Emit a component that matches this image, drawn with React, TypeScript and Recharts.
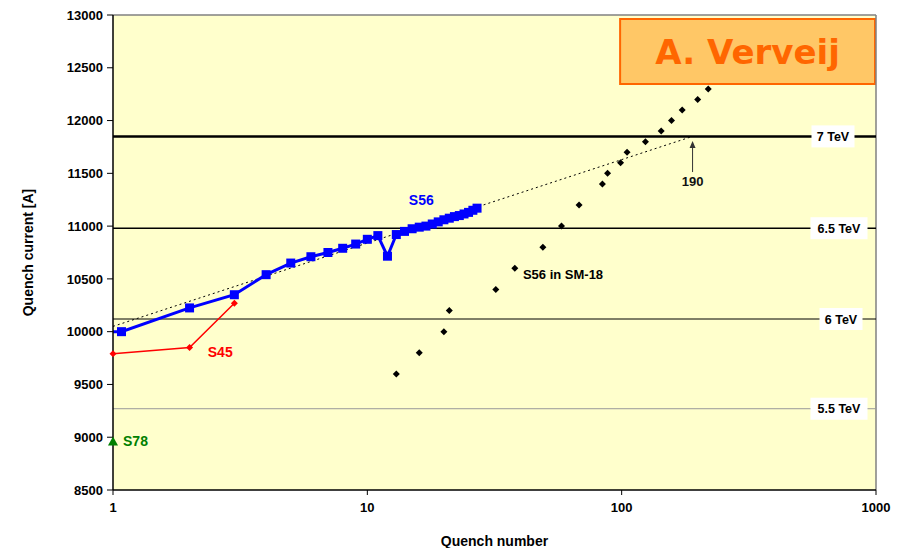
import {
  ComposedChart, Line, Scatter, XAxis, YAxis, ReferenceLine, ReferenceArea, ReferenceDot, Label,
} from 'recharts';

// S56 quench training in the tunnel
const s56Quench = [1, 1.08, 2, 3, 4, 5, 6, 7, 8, 9, 10, 11, 12, 13, 14, 15, 16, 17, 18, 19, 20, 21, 22, 23, 24, 25, 26, 27];
const s56Current = [10000, 10000, 10225, 10350, 10540, 10650, 10710, 10750, 10790, 10830, 10875, 10910, 10715, 10920, 10950, 10975, 10990, 11000, 11020, 11040, 11060, 11075, 11090, 11100, 11115, 11130, 11150, 11170];

// S45
const s45Quench = [1, 2, 3];
const s45Current = [9790, 9850, 10270];

// S78
const s78Quench = [1];
const s78Current = [8960];

// S56 magnets tested in SM-18
const sm18Quench = [13, 16, 20, 21, 32, 38, 49, 58, 68, 84, 88, 99, 105, 124, 143, 157, 173, 199, 219];
const sm18Current = [9600, 9800, 10000, 10200, 10400, 10600, 10800, 11000, 11200, 11400, 11500, 11600, 11700, 11800, 11900, 12000, 12100, 12200, 12300];

// log trend fitted through S56
const trendQuench = [1, 190];
const trendCurrent = [10050, 11850];

// beam energy levels
const tevLabels = ['7 TeV', '6.5 TeV', '6 TeV', '5.5 TeV'];
const tevCurrent = [11850, 10980, 10120, 9270];

const xTicks = [1, 10, 100, 1000];
const yTicks = [8500, 9000, 9500, 10000, 10500, 11000, 11500, 12000, 12500, 13000];

const zip = (xs: number[], ys: number[]) => xs.map((x, i) => ({ x, y: ys[i] }));

const s56Data = zip(s56Quench, s56Current);
const s45Data = zip(s45Quench, s45Current);
const s78Data = zip(s78Quench, s78Current);
const sm18Data = zip(sm18Quench, sm18Current);
const trendData = zip(trendQuench, trendCurrent);

const FONT = '"Liberation Sans", Arial, sans-serif';

const tevStyle = [
  { width: 2.5, color: '#000', dx: -43 },
  { width: 1.5, color: '#000', dx: -37 },
  { width: 1, color: '#000', dx: -35 },
  { width: 1, color: '#999', dx: -37 },
];

function SquareDot(props: any) {
  const { cx, cy, index } = props;
  if (index === 0 || cx == null) return <g key={`sq-${index}`} />;
  return <rect key={`sq-${index}`} x={cx - 4.5} y={cy - 4.5} width={9} height={9} fill="#0000FF" />;
}

function SmallDiamond(props: any) {
  const { cx, cy, index } = props;
  if (cx == null) return <g key={`rd-${index}`} />;
  return <path key={`rd-${index}`} d={`M${cx},${cy - 3.5}L${cx + 3.5},${cy}L${cx},${cy + 3.5}L${cx - 3.5},${cy}Z`} fill="#FF0000" />;
}

function BlackDiamond(props: any) {
  const { cx, cy } = props;
  return <path d={`M${cx},${cy - 3.5}L${cx + 3.5},${cy}L${cx},${cy + 3.5}L${cx - 3.5},${cy}Z`} fill="#000" />;
}

function Triangle(props: any) {
  const { cx, cy } = props;
  return <path d={`M${cx},${cy - 5}L${cx + 5},${cy + 4}L${cx - 5},${cy + 4}Z`} fill="#008000" />;
}

function TevLabel({ viewBox, text, dx }: any) {
  const cx = viewBox.x + viewBox.width + dx;
  const cy = viewBox.y;
  const w = text.length * 7 + 8;
  return (
    <g>
      <rect x={cx - w / 2} y={cy - 11} width={w} height={22} fill="#fff" />
      <text x={cx} y={cy + 4.5} textAnchor="middle" fontFamily={FONT} fontWeight="bold" fontSize={12.5} fill="#000">{text}</text>
    </g>
  );
}

function TextLabel({ viewBox, text, color, anchor = 'middle', size = 14 }: any) {
  return (
    <text x={viewBox.x} y={viewBox.y + size * 0.36} textAnchor={anchor} fontFamily={FONT} fontWeight="bold" fontSize={size} fill={color}>
      {text}
    </text>
  );
}

function ArrowLabel({ viewBox }: any) {
  const x = viewBox.x;
  const y = viewBox.y;
  return (
    <g>
      <line x1={x} y1={y - 9} x2={x} y2={y - 36} stroke="#333" strokeWidth={1} />
      <path d={`M${x},${y - 40}L${x + 3},${y - 33}L${x - 3},${y - 33}Z`} fill="#333" />
      <text x={x} y={y + 5} textAnchor="middle" fontFamily={FONT} fontWeight="bold" fontSize={13} fill="#111">190</text>
    </g>
  );
}

export default function App() {
  return (
    <div style={{ position: 'fixed', left: 0, top: 0, background: '#fff' }}>
      <ComposedChart width={898} height={548} margin={{ top: 15, right: 22, bottom: 0, left: 0 }}>
        <XAxis
          type="number"
          dataKey="x"
          scale="log"
          domain={[1, 1000]}
          ticks={xTicks}
          height={58}
          axisLine={{ stroke: '#000', strokeWidth: 1.5 }}
          tickLine={{ stroke: '#000' }}
          tickSize={5}
          tick={{ fill: '#000', fontSize: 13, fontWeight: 'bold', fontFamily: FONT }}
          tickMargin={8}
        >
          <Label value="Quench number" position="insideBottom" offset={0} dy={-2} style={{ fill: '#000', fontSize: 14, fontWeight: 'bold', fontFamily: FONT }} />
        </XAxis>
        <YAxis
          type="number"
          dataKey="y"
          domain={[8500, 13000]}
          ticks={yTicks}
          width={113}
          axisLine={{ stroke: '#000', strokeWidth: 1.5 }}
          tickLine={{ stroke: '#000' }}
          tickSize={6}
          tick={{ fill: '#000', fontSize: 13, fontWeight: 'bold', fontFamily: FONT }}
          tickMargin={4}
        >
          <Label value="Quench current [A]" angle={-90} position="insideLeft" offset={28} style={{ textAnchor: 'middle', fill: '#000', fontSize: 14, fontWeight: 'bold', fontFamily: FONT }} />
        </YAxis>

        <ReferenceArea x1={1} x2={1000} y1={8500} y2={13000} fill="#FFFFCC" fillOpacity={1} stroke="none" />
        <ReferenceLine y={13000} stroke="#808080" strokeWidth={1.5} />
        <ReferenceLine x={1000} stroke="#808080" strokeWidth={1.5} />

        {tevCurrent.map((c, i) => (
          <ReferenceLine
            key={tevLabels[i]}
            y={c}
            stroke={tevStyle[i].color}
            strokeWidth={tevStyle[i].width}
            label={(p: any) => <TevLabel {...p} text={tevLabels[i]} dx={tevStyle[i].dx} />}
          />
        ))}

        <ReferenceArea
          x1={98.6}
          x2={991}
          y1={12346}
          y2={12962}
          fill="#FFC766"
          fillOpacity={1}
          stroke="#FF6600"
          strokeWidth={2}
          label={{ value: 'A. Verveij', position: 'center', fill: '#FF6600', fontSize: 34, fontWeight: 'bold', fontFamily: '"DejaVu Sans", Verdana, sans-serif' }}
        />

        <Line data={trendData} dataKey="y" stroke="#000" strokeWidth={1} strokeDasharray="2 3" dot={false} isAnimationActive={false} />
        <Line data={s45Data} dataKey="y" stroke="#FF0000" strokeWidth={1.5} dot={SmallDiamond} activeDot={false} isAnimationActive={false} />
        <Line data={s56Data} dataKey="y" stroke="#0000FF" strokeWidth={3} dot={SquareDot} activeDot={false} isAnimationActive={false} />
        <Scatter data={sm18Data} dataKey="y" shape={BlackDiamond} isAnimationActive={false} />
        <Scatter data={s78Data} dataKey="y" shape={Triangle} isAnimationActive={false} />

        <ReferenceDot x={16.3} y={11248} r={0} label={(p: any) => <TextLabel {...p} text="S56" color="#0000FF" />} />
        <ReferenceDot x={2.64} y={9807} r={0} label={(p: any) => <TextLabel {...p} text="S45" color="#FF0000" />} />
        <ReferenceDot x={40.9} y={10546} r={0} label={(p: any) => <TextLabel {...p} text="S56 in SM-18" color="#000" anchor="start" size={13} />} />
        <ReferenceDot x={1.095} y={8960} r={0} label={(p: any) => <TextLabel {...p} text="S78" color="#008000" anchor="start" />} />
        <ReferenceDot x={190} y={11427} r={0} label={(p: any) => <ArrowLabel {...p} />} />
      </ComposedChart>
    </div>
  );
}
